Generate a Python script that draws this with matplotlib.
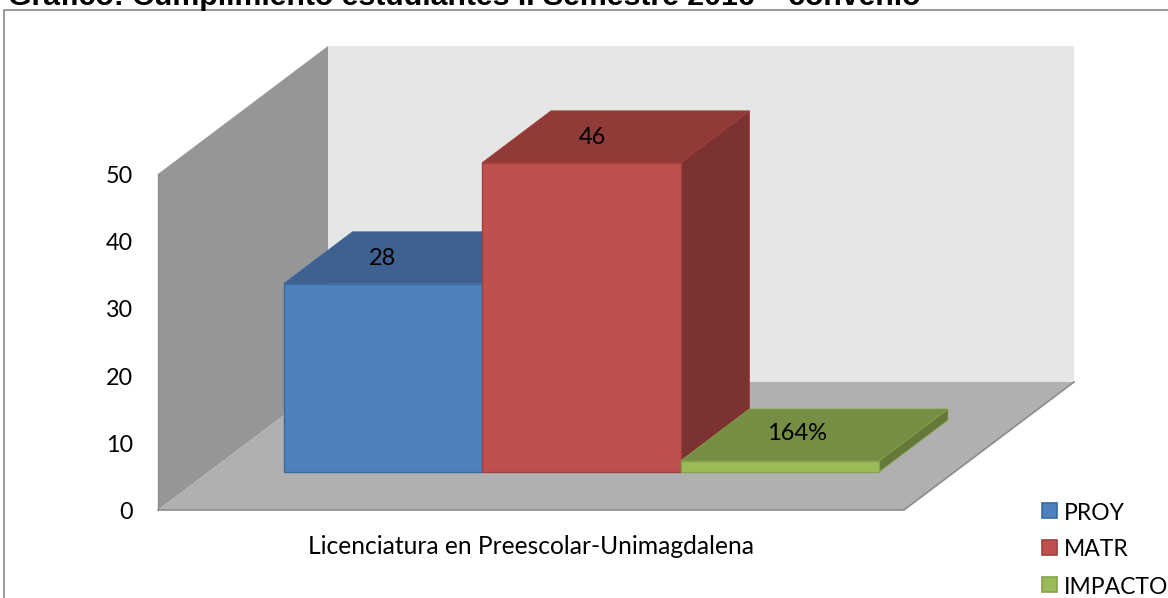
import matplotlib
matplotlib.use("Agg")
import matplotlib.pyplot as plt
from matplotlib.patches import Polygon, Rectangle

categoria = "Licenciatura en Preescolar-Unimagdalena"
series = ["PROY", "MATR", "IMPACTO"]
valores = [28, 46, 1.64]
etiquetas = ["28", "46", "164%"]
ticks = [0, 10, 20, 30, 40, 50]
titulo = "Gráfico: Cumplimiento estudiantes II Semestre 2016 – convenio"

# front, top, side colours per series
frente = ["#4f81bd", "#c0504d", "#9bbb59"]
arriba = ["#3e6190", "#913b39", "#758e43"]
lado = ["#345279", "#7b3230", "#637839"]
borde = ["#3a6a9e", "#a03f3c", "#85a24a"]

# scale of the fake 3D box, in pixels
PX_UNIDAD = 6.72
DX, DY = 170, -128
BX, BY = 69, -52
X0_BARRAS, ANCHO = 283.5, 198.5
Y0_BARRAS = 472
X_EJE, Y_EJE = 158, 510
X_FIN = 904
# the data labels drift right on the bar tops
ETIQ_DX = [0, 11, 17]
ETIQ_DY = [-25, -25, -27]


def cuadro(ax, puntos, color, ec="none", lw=0.0, z=1):
    ax.add_patch(Polygon(puntos, closed=True, fc=color, ec=ec, lw=lw, zorder=z))


plt.rcParams["font.family"] = ["Lato", "DejaVu Sans"]
fig = plt.figure(figsize=(11.68, 5.98), dpi=100)
ax = fig.add_axes([0, 0, 1, 1])
ax.set_xlim(0, 1168)
ax.set_ylim(598, 0)
ax.axis("off")

# chart frame
ax.plot([4, 4, 1168], [598, 10, 10], color="#868686", lw=1.2, zorder=1)

# title, clipped by the top of the page
ax.text(8, 5, titulo, fontsize=21.8, fontweight="bold", family="Liberation Sans", ha="left", va="baseline", zorder=5)

# walls and floor
y_tope = Y_EJE - ticks[-1] * PX_UNIDAD
cuadro(ax, [(X_EJE + DX, y_tope + DY), (X_FIN + DX, y_tope + DY), (X_FIN + DX, Y_EJE + DY), (X_EJE + DX, Y_EJE + DY)], "#e6e6e6")
cuadro(ax, [(X_EJE, y_tope), (X_EJE + DX, y_tope + DY), (X_EJE + DX, Y_EJE + DY), (X_EJE, Y_EJE)], "#969696")
cuadro(ax, [(X_EJE, Y_EJE), (X_EJE + DX, Y_EJE + DY), (X_FIN + DX, Y_EJE + DY), (X_FIN, Y_EJE)], "#b0b0b0")
ax.plot([X_EJE, X_FIN, X_FIN + DX], [Y_EJE, Y_EJE, Y_EJE + DY], color="#8c8c8c", lw=1.2, zorder=2)
ax.plot([X_EJE, X_EJE], [y_tope, Y_EJE], color="#8c8c8c", lw=1.0, zorder=2)

# bars, left to right: each one covers the side of the previous one
for i in range(len(series)):
    x1 = X0_BARRAS + i * ANCHO
    x2 = x1 + ANCHO
    y_top = Y0_BARRAS - valores[i] * PX_UNIDAD
    z = 3 + i
    cuadro(ax, [(x2, y_top), (x2 + BX, y_top + BY), (x2 + BX, Y0_BARRAS + BY), (x2, Y0_BARRAS)], lado[i], ec=borde[i], lw=0.6, z=z)
    cuadro(ax, [(x1, y_top), (x1 + BX, y_top + BY), (x2 + BX, y_top + BY), (x2, y_top)], arriba[i], ec=borde[i], lw=0.6, z=z)
    cuadro(ax, [(x1, y_top), (x2, y_top), (x2, Y0_BARRAS), (x1, Y0_BARRAS)], frente[i], ec=borde[i], lw=1.0, z=z)
    ax.text(x1 + ANCHO / 2 + ETIQ_DX[i], y_top + ETIQ_DY[i], etiquetas[i], fontsize=17, ha="center", va="center", zorder=10)

# axis labels
for t in ticks:
    ax.text(133, Y_EJE + 2.5 - t * PX_UNIDAD, str(t), fontsize=16.8, ha="right", va="center", zorder=6)
ax.text(530.5, 546.5, categoria, fontsize=17.7, ha="center", va="center", zorder=6)

# legend
for i, nombre in enumerate(series):
    y = 511 + i * 37
    ax.add_patch(Rectangle((1042, y - 8), 15, 15, fc=frente[i], ec=borde[i], lw=1.2, zorder=6))
    ax.text(1064, y + 2, nombre, fontsize=16.5, ha="left", va="center", zorder=6)

fig.savefig("out.png", dpi=100)
